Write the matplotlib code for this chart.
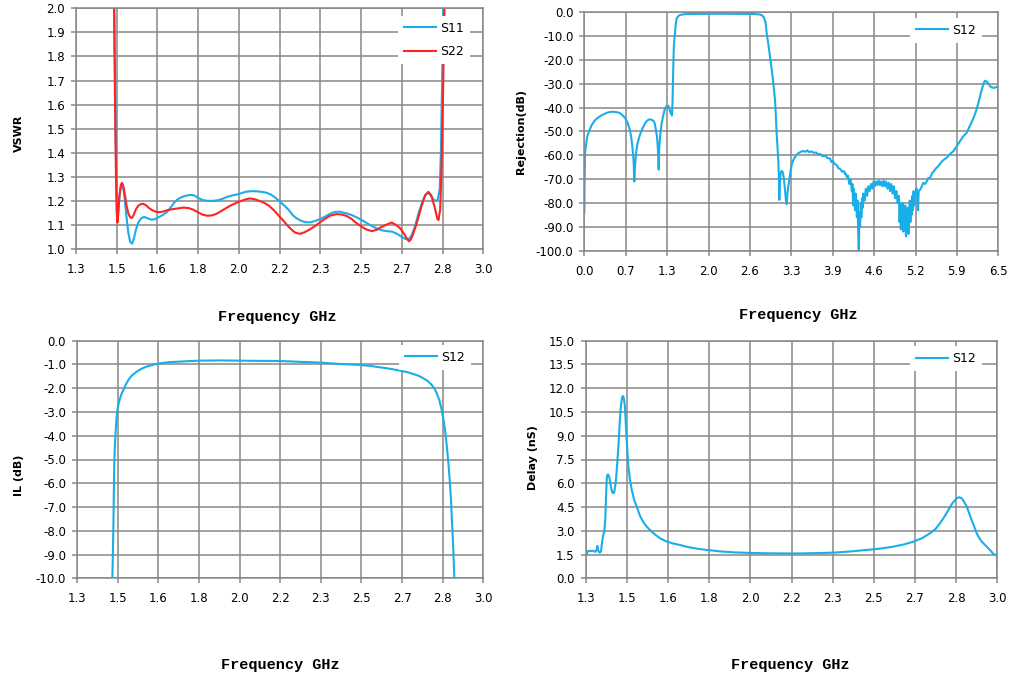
import numpy as np
import matplotlib
matplotlib.use("Agg")
import matplotlib.pyplot as plt

# ---------------- data ----------------
# VSWR (top-left)
s11_f = [1.456, 1.460, 1.464, 1.468, 1.471, 1.474, 1.478, 1.484, 1.490, 1.495, 1.502, 1.510, 1.518,
         1.526, 1.534, 1.542, 1.550, 1.558, 1.566, 1.575, 1.585, 1.600, 1.615, 1.630, 1.645, 1.660,
         1.678, 1.695, 1.710, 1.725, 1.740, 1.760, 1.780, 1.795, 1.810, 1.830, 1.850, 1.870, 1.890,
         1.910, 1.930, 1.950, 1.970, 1.990, 2.010, 2.030, 2.050, 2.070, 2.090, 2.110, 2.130, 2.150,
         2.170, 2.190, 2.205, 2.220, 2.240, 2.260, 2.280, 2.300, 2.320, 2.340, 2.360, 2.380, 2.400,
         2.420, 2.440, 2.460, 2.480, 2.500, 2.520, 2.540, 2.560, 2.580, 2.600, 2.620, 2.640, 2.660,
         2.675, 2.687, 2.700, 2.715, 2.730, 2.745, 2.758, 2.771, 2.782, 2.792, 2.802, 2.810, 2.818,
         2.823, 2.828, 2.833, 2.838]
s11_v = [2.6, 2.0, 1.6, 1.30, 1.16, 1.14, 1.18, 1.24, 1.27, 1.265, 1.22, 1.14, 1.07,
         1.03, 1.022, 1.045, 1.08, 1.105, 1.12, 1.13, 1.133, 1.127, 1.122, 1.124, 1.132, 1.14,
         1.152, 1.172, 1.193, 1.207, 1.215, 1.222, 1.225, 1.222, 1.212, 1.203, 1.200, 1.200, 1.202,
         1.208, 1.216, 1.222, 1.226, 1.232, 1.238, 1.240, 1.240, 1.238, 1.235, 1.228, 1.215, 1.198,
         1.18, 1.16, 1.14, 1.128, 1.117, 1.111, 1.111, 1.117, 1.125, 1.135, 1.146, 1.154, 1.155,
         1.150, 1.145, 1.137, 1.127, 1.116, 1.104, 1.093, 1.083, 1.077, 1.074, 1.072, 1.063, 1.050,
         1.042, 1.039, 1.055, 1.094, 1.15, 1.195, 1.225, 1.237, 1.225, 1.205, 1.200, 1.205, 1.25,
         1.40, 1.70, 2.00, 2.6]

s22_f = [1.455, 1.459, 1.463, 1.467, 1.470, 1.473, 1.476, 1.481, 1.487, 1.492, 1.498, 1.505, 1.512,
         1.520, 1.527, 1.533, 1.540, 1.550, 1.560, 1.570, 1.580, 1.592, 1.605, 1.620, 1.636, 1.650,
         1.665, 1.680, 1.700, 1.720, 1.748, 1.770, 1.790, 1.810, 1.830, 1.850, 1.870, 1.890, 1.910,
         1.930, 1.950, 1.970, 1.990, 2.010, 2.026, 2.045, 2.065, 2.085, 2.105, 2.125, 2.145, 2.165,
         2.185, 2.200, 2.215, 2.235, 2.255, 2.277, 2.300, 2.320, 2.340, 2.360, 2.388, 2.410, 2.430,
         2.450, 2.470, 2.490, 2.510, 2.535, 2.555, 2.576, 2.600, 2.618, 2.635, 2.652, 2.670, 2.683,
         2.690, 2.698, 2.706, 2.720, 2.742, 2.757, 2.771, 2.785, 2.798, 2.808, 2.813, 2.820, 2.826,
         2.832, 2.838, 2.843]
s22_v = [2.6, 2.0, 1.6, 1.30, 1.15, 1.11, 1.14, 1.22, 1.265, 1.275, 1.26, 1.22, 1.175,
         1.143, 1.131, 1.129, 1.14, 1.165, 1.18, 1.186, 1.188, 1.182, 1.170, 1.160, 1.154, 1.153,
         1.156, 1.161, 1.165, 1.168, 1.172, 1.170, 1.163, 1.152, 1.142, 1.138, 1.14, 1.148, 1.160,
         1.172, 1.183, 1.192, 1.200, 1.207, 1.210, 1.207, 1.200, 1.192, 1.180, 1.162, 1.14, 1.118,
         1.095, 1.080, 1.068, 1.063, 1.070, 1.082, 1.097, 1.112, 1.126, 1.138, 1.145, 1.143, 1.137,
         1.125, 1.108, 1.094, 1.082, 1.074, 1.080, 1.092, 1.103, 1.110, 1.100, 1.087, 1.062, 1.040,
         1.032, 1.040, 1.060, 1.10, 1.177, 1.222, 1.237, 1.215, 1.17, 1.125, 1.120, 1.163, 1.35,
         1.65, 2.00, 2.6]

# Rejection (top-right)
rej_f = [0.000, 0.005, 0.012, 0.030, 0.047, 0.080, 0.116, 0.160, 0.200, 0.246, 0.300, 0.350, 0.400,
         0.455, 0.510, 0.560, 0.600, 0.640, 0.680, 0.717, 0.740, 0.760, 0.775, 0.785, 0.795, 0.812,
         0.835, 0.864, 0.895, 0.927, 0.960, 0.990, 1.020, 1.050, 1.083, 1.105, 1.120, 1.140, 1.152,
         1.162, 1.168, 1.175, 1.189, 1.215, 1.240, 1.265, 1.294, 1.320, 1.340, 1.357, 1.377, 1.385,
         1.395, 1.405, 1.415, 1.424, 1.435, 1.451, 1.480, 1.503, 1.55, 1.60, 1.712, 1.9, 2.1, 2.3,
         2.5, 2.65, 2.756, 2.785, 2.810, 2.830, 2.848, 2.864, 2.890, 2.916, 2.940, 2.968, 2.994,
         3.005, 3.020, 3.035, 3.046, 3.055, 3.062, 3.070, 3.083, 3.100, 3.115, 3.135, 3.156, 3.170,
         3.178, 3.190, 3.203, 3.220, 3.240, 3.260, 3.282, 3.320, 3.360, 3.400, 3.439, 3.480, 3.500,
         3.530, 3.570, 3.600, 3.640, 3.670, 3.700, 3.740, 3.780, 3.820, 3.858, 3.880, 3.900, 3.930,
         3.963, 3.990, 4.020, 4.050, 4.075, 4.093,
         4.10, 4.12, 4.14, 4.16, 4.18, 4.20, 4.21, 4.22, 4.23, 4.24, 4.25, 4.26, 4.27, 4.28, 4.29,
         4.30, 4.31, 4.32, 4.33, 4.34, 4.35, 4.36, 4.37, 4.38, 4.40, 4.42, 4.44, 4.46, 4.48, 4.50,
         4.52, 4.54, 4.56, 4.58, 4.60, 4.62, 4.64, 4.66, 4.68, 4.70, 4.72, 4.74, 4.76, 4.78, 4.80,
         4.82, 4.84, 4.86, 4.88, 4.90, 4.92, 4.94, 4.95, 4.96, 4.97, 4.98, 4.99, 5.00, 5.01, 5.02,
         5.03, 5.04, 5.05, 5.06, 5.07, 5.08, 5.09, 5.10, 5.11, 5.12, 5.13, 5.14, 5.15, 5.16, 5.17,
         5.18, 5.19, 5.20, 5.22, 5.24, 5.25, 5.27, 5.30, 5.32, 5.35, 5.376, 5.40, 5.43, 5.46, 5.48,
         5.52, 5.56, 5.60, 5.637, 5.69, 5.74, 5.794, 5.85, 5.90, 5.95, 6.004, 6.05, 6.108, 6.150,
         6.186, 6.215, 6.240, 6.265, 6.291, 6.315, 6.343, 6.370, 6.396, 6.430, 6.460, 6.500]
rej_v = [-84, -70, -59, -55, -52, -49.5, -47.3, -45.5, -44.5, -43.6, -42.8, -42.2, -41.8,
         -41.7, -41.9, -42.3, -43.2, -44.3, -46.3, -49.4, -53, -57.8, -63, -71, -65, -59.1,
         -55, -52.2, -49.8, -48.0, -46.3, -45.4, -44.9, -45, -45.5, -46.5, -48.7, -52, -56,
         -61, -66, -58, -52.2, -46.5, -43.1, -40.5, -39.3, -39.2, -40.8, -42.4, -43.3, -38,
         -25, -15, -11, -8.8, -5, -2.5, -1.5, -1.1, -0.9, -0.75, -0.7, -0.65, -0.6, -0.62,
         -0.65, -0.7, -0.9, -1.2, -1.8, -2.9, -4.6, -8.8, -13.5, -18.6, -23.5, -29.8, -36.8,
         -42, -50.8, -57, -62, -70, -78.7, -72, -67.3, -66.5, -67, -70, -76, -80,
         -80.5, -76, -72.8, -70, -66.1, -63.5, -62, -60.2, -59.1, -58.5, -58.2, -58.5, -57.9,
         -58.6, -58.4, -58.9, -58.8, -59.6, -59.4, -60.3, -60.2, -61.2, -61.3, -62.8, -62.3, -63.6,
         -64.1, -65.4, -65.8, -66.9, -66.6, -67.8,
         -67.5, -69, -68.5, -72, -70, -75, -72, -81, -74, -78, -83, -76, -80, -86, -79,
         -92, -100, -84, -90, -80, -86, -78, -82, -76, -79, -74, -77, -73, -75, -72,
         -74, -71, -73, -71, -72.5, -70.5, -72.5, -71, -73, -70.5, -73, -71, -74, -71.5, -75,
         -72, -76, -73, -78, -75, -80, -77, -88, -80, -91, -82, -86, -80, -92, -83,
         -89, -81, -94, -85, -90, -82, -93, -84, -79, -88, -80, -85, -77, -83, -75,
         -81, -76, -76, -74, -83, -75, -74.5, -73, -71.5, -72, -71, -69.5, -69.5, -67.5, -67,
         -65.5, -64.5, -63, -62, -61, -59.5, -58.3, -56, -54, -52, -50.5, -47.8, -44.5, -41.5,
         -38.2, -35, -32.6, -30, -28.7, -29, -29.8, -31, -31.5, -31.7, -31.5, -30.9]

# Insertion loss (bottom-left)
il_f = [1.446, 1.448, 1.450, 1.452, 1.454, 1.456, 1.459, 1.462, 1.466, 1.469, 1.474, 1.480, 1.487,
        1.494, 1.504, 1.515, 1.530, 1.550, 1.570, 1.592, 1.620, 1.647, 1.690, 1.731, 1.775, 1.815,
        1.858, 1.898, 1.940, 1.982, 2.025, 2.065, 2.108, 2.149, 2.190, 2.233, 2.275, 2.316, 2.358,
        2.400, 2.442, 2.484, 2.526, 2.568, 2.610, 2.651, 2.680, 2.707, 2.730, 2.749, 2.768, 2.784,
        2.795, 2.805, 2.816, 2.826, 2.833, 2.840, 2.847, 2.854, 2.859, 2.864, 2.868, 2.872, 2.876,
        2.879, 2.881]
il_v = [-10.5, -10, -9, -7.97, -6.5, -5.16, -4.3, -3.76, -3.2, -2.92, -2.65, -2.43, -2.22,
        -2.07, -1.85, -1.65, -1.46, -1.30, -1.18, -1.09, -1.01, -0.95, -0.9, -0.88, -0.855, -0.84,
        -0.835, -0.83, -0.835, -0.84, -0.845, -0.85, -0.85, -0.855, -0.87, -0.89, -0.905, -0.92, -0.95,
        -0.98, -1.0, -1.02, -1.06, -1.12, -1.18, -1.26, -1.32, -1.40, -1.48, -1.58, -1.70, -1.86,
        -2.0, -2.21, -2.5, -2.92, -3.3, -3.76, -4.4, -5.16, -5.8, -6.56, -7.4, -8.24, -9.2,
        -10, -10.5]

# Group delay (bottom-right)
gd_f = [1.300, 1.303, 1.306, 1.310, 1.315, 1.322, 1.331, 1.337, 1.341, 1.345, 1.348, 1.351, 1.354,
        1.358, 1.363, 1.367, 1.371, 1.374, 1.377, 1.381, 1.384, 1.387, 1.390, 1.393, 1.397, 1.401,
        1.405, 1.410, 1.414, 1.418, 1.422, 1.425, 1.430, 1.435, 1.440, 1.445, 1.450, 1.453, 1.456,
        1.459, 1.462, 1.469, 1.476, 1.483, 1.490, 1.500, 1.511, 1.524, 1.538, 1.552, 1.572, 1.590,
        1.607, 1.630, 1.660, 1.690, 1.720, 1.760, 1.800, 1.855, 1.910, 1.980, 2.048, 2.120, 2.185,
        2.255, 2.323, 2.390, 2.461, 2.520, 2.571, 2.615, 2.653, 2.690, 2.722, 2.745, 2.763, 2.782,
        2.798, 2.815, 2.832, 2.843, 2.853, 2.864, 2.874, 2.884, 2.894, 2.905, 2.915, 2.925, 2.936,
        2.950, 2.963, 2.975, 2.984, 2.994, 2.998, 3.000]
gd_v = [1.74, 1.55, 1.6, 1.72, 1.74, 1.72, 1.74, 1.68, 1.68, 1.8, 2.05, 1.8, 1.68,
        1.62, 1.68, 2.2, 2.63, 2.8, 2.94, 3.8, 5.15, 6.3, 6.55, 6.55, 6.4, 6.1,
        5.7, 5.42, 5.37, 5.45, 5.85, 6.2, 7.2, 8.3, 9.7, 10.83, 11.4, 11.51, 11.45,
        11.2, 10.83, 8.8, 7.1, 6.2, 5.6, 4.95, 4.52, 3.95, 3.55, 3.26, 2.95, 2.72,
        2.53, 2.35, 2.2, 2.1, 1.98, 1.87, 1.79, 1.70, 1.64, 1.60, 1.58, 1.57, 1.57,
        1.59, 1.62, 1.69, 1.79, 1.88, 2.0, 2.14, 2.31, 2.54, 2.84, 3.12, 3.47, 3.90,
        4.31, 4.75, 5.05, 5.12, 5.05, 4.80, 4.52, 4.1, 3.68, 3.25, 2.84, 2.55, 2.31,
        2.10, 1.89, 1.7, 1.53, 1.48, 1.45, 0.94]

# tick labels
x_lbl_narrow = ["1.3", "1.5", "1.6", "1.8", "2.0", "2.2", "2.3", "2.5", "2.7", "2.8", "3.0"]
x_lbl_wide = ["0.0", "0.7", "1.3", "2.0", "2.6", "3.3", "3.9", "4.6", "5.2", "5.9", "6.5"]
y_lbl_vswr = ["1.0", "1.1", "1.2", "1.3", "1.4", "1.5", "1.6", "1.7", "1.8", "1.9", "2.0"]
y_lbl_rej = ["-100.0", "-90.0", "-80.0", "-70.0", "-60.0", "-50.0", "-40.0", "-30.0", "-20.0", "-10.0", "0.0"]
y_lbl_il = ["-10.0", "-9.0", "-8.0", "-7.0", "-6.0", "-5.0", "-4.0", "-3.0", "-2.0", "-1.0", "0.0"]
y_lbl_gd = ["0.0", "1.5", "3.0", "4.5", "6.0", "7.5", "9.0", "10.5", "12.0", "13.5", "15.0"]

# ---------------- style ----------------
W, H = 1017, 680
BLUE = "#1AAEE8"
RED = "#FF2222"
GRID = "#878787"
LW = 1.5

fig = plt.figure(figsize=(W / 100, H / 100), dpi=100)
fig.patch.set_facecolor("white")


def make_ax(l, t, r, b):
    return fig.add_axes([l / W, 1 - b / H, (r - l) / W, (b - t) / H])


def style(ax, xlim, xt_lbl, ylim, yt_lbl):
    ax.set_xlim(*xlim)
    ax.set_ylim(*ylim)
    ax.set_xticks(np.linspace(xlim[0], xlim[1], len(xt_lbl)), xt_lbl)
    ax.set_yticks(np.linspace(ylim[0], ylim[1], len(yt_lbl)), yt_lbl)
    ax.grid(True, color=GRID, lw=1.1)
    ax.set_axisbelow(True)
    for s in ax.spines.values():
        s.set_color(GRID)
        s.set_linewidth(1.1)
    ax.tick_params(axis="both", length=3.6, width=1.1, color=GRID, labelsize=8.5,
                   labelcolor="#000000")
    ax.tick_params(axis="x", pad=6.5)
    ax.tick_params(axis="y", pad=4.3)


def legend(ax, anchor):
    ax.legend(loc="upper right", bbox_to_anchor=anchor, borderaxespad=0, frameon=True,
              facecolor="white", edgecolor="none", framealpha=1, fancybox=False,
              fontsize=9, handlelength=2.56, handletextpad=0.32, borderpad=0.5,
              labelspacing=0.82)


def ylabel(x, y, s):
    fig.text(x / W, 1 - y / H, s, rotation=90, ha="center", va="center",
             fontsize=8, fontweight="bold", family="DejaVu Sans")


def xlabel(x, y):
    fig.text(x / W, 1 - y / H, "Frequency GHz", ha="center", va="center",
             fontsize=11, fontweight="bold", family="Liberation Mono")


# top-left: VSWR
ax1 = make_ax(76, 8.3, 483.3, 249)
ax1.plot(s11_f, s11_v, color=BLUE, lw=LW, label="S11")
ax1.plot(s22_f, s22_v, color=RED, lw=LW, label="S22")
style(ax1, (1.3, 3.0), x_lbl_narrow, (1.0, 2.0), y_lbl_vswr)
legend(ax1, (0.967, 0.970))
ylabel(19, 133, "VSWR")
xlabel(277, 317)

# top-right: rejection
ax2 = make_ax(584.3, 12.3, 998.3, 250.7)
ax2.plot(rej_f, rej_v, color=BLUE, lw=LW, label="S12")
style(ax2, (0.0, 6.5), x_lbl_wide, (-100, 0), y_lbl_rej)
legend(ax2, (0.961, 0.978))
ylabel(521, 131, "Rejection(dB)")
xlabel(798, 315)

# bottom-left: IL
ax3 = make_ax(77, 340.7, 483.3, 578.3)
ax3.plot(il_f, il_v, color=BLUE, lw=LW, label="S12")
style(ax3, (1.3, 3.0), x_lbl_narrow, (-10, 0), y_lbl_il)
legend(ax3, (0.970, 0.984))
ylabel(19, 475, "IL (dB)")
xlabel(280, 665)

# bottom-right: delay
ax4 = make_ax(585.7, 340.7, 997.3, 578.3)
ax4.plot(gd_f, gd_v, color=BLUE, lw=LW, label="S12")
style(ax4, (1.3, 3.0), x_lbl_narrow, (0, 15), y_lbl_gd)
legend(ax4, (0.964, 0.979))
ylabel(533, 458, "Delay (nS)")
xlabel(790, 665)

fig.savefig("out.png", dpi=100, facecolor="white")
